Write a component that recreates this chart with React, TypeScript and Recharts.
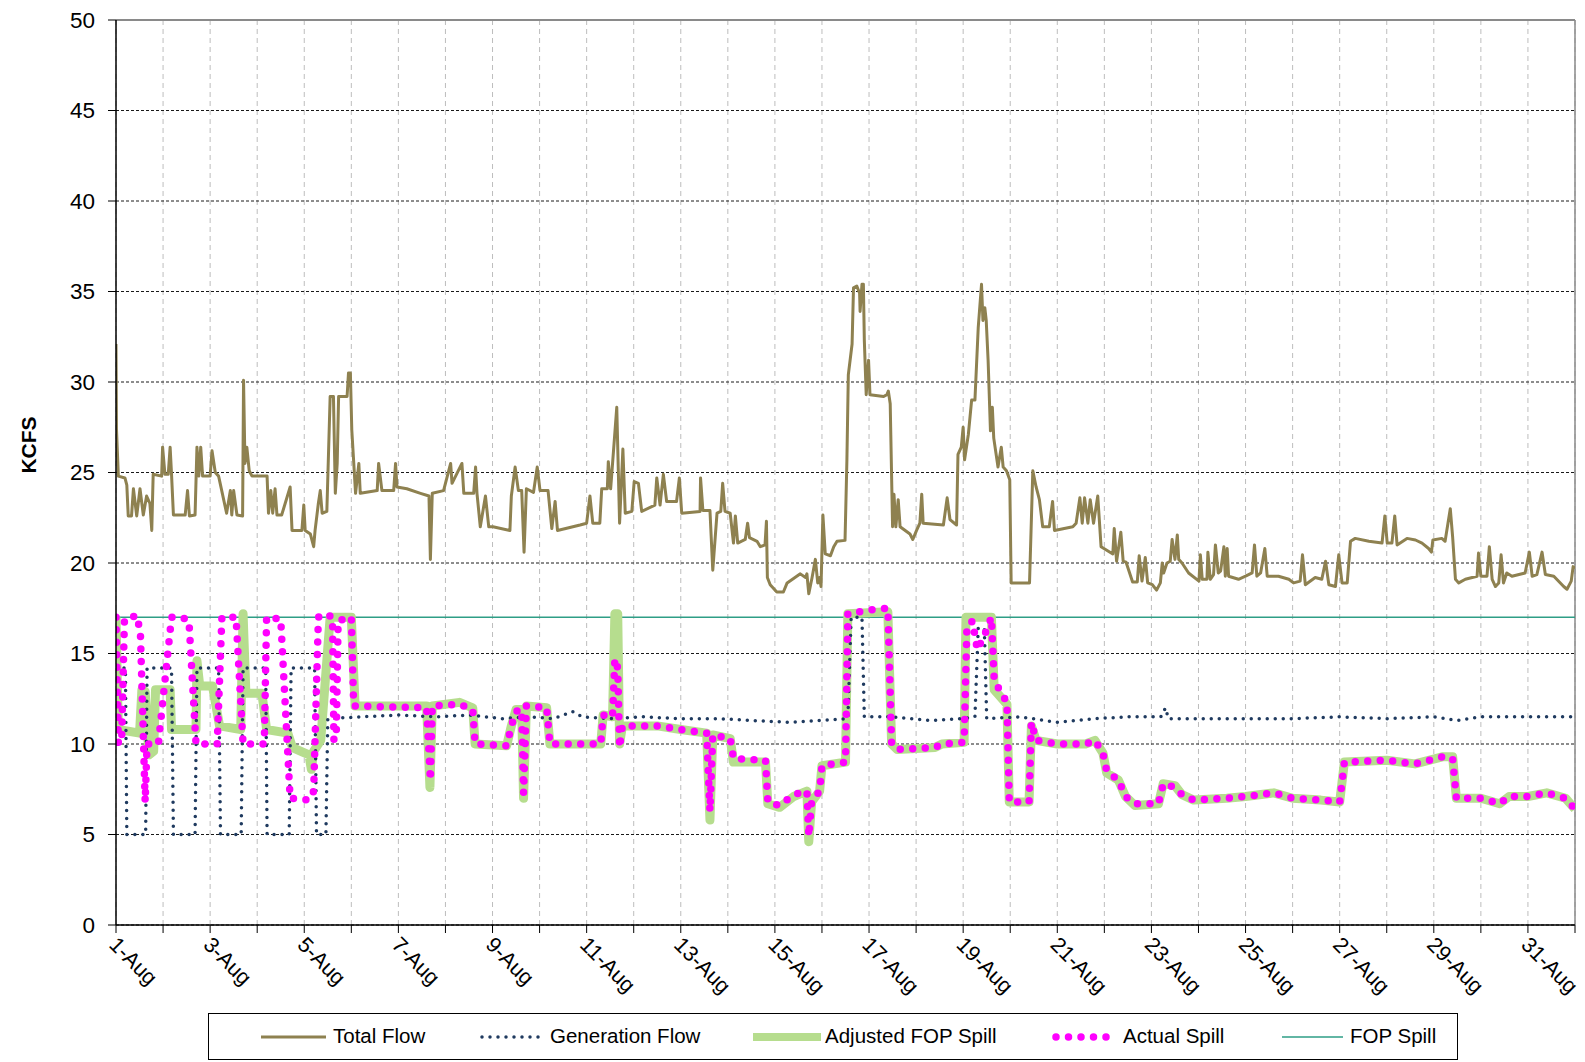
import { LineChart, Line, XAxis, YAxis, CartesianGrid, ReferenceLine } from 'recharts'

// [days since 1-Aug 00:00, kcfs]
type Pt = [number, number]

const dayTicks = [0, 1, 2, 3, 4, 5, 6, 7, 8, 9, 10, 11, 12, 13, 14, 15, 16, 17, 18, 19, 20, 21, 22, 23, 24, 25, 26, 27, 28, 29, 30, 31]
const dayLabels = [
  '1-Aug', '', '3-Aug', '', '5-Aug', '', '7-Aug', '', '9-Aug', '', '11-Aug', '', '13-Aug', '', '15-Aug', '',
  '17-Aug', '', '19-Aug', '', '21-Aug', '', '23-Aug', '', '25-Aug', '', '27-Aug', '', '29-Aug', '', '31-Aug', '',
]
const yTicks = [0, 5, 10, 15, 20, 25, 30, 35, 40, 45, 50]

const totalFlow: Pt[] = [
  [0, 32.1], [0.01, 27.4], [0.05, 24.8], [0.19, 24.7], [0.23, 24.3], [0.26, 22.6], [0.33, 22.6], [0.37, 24.1],
  [0.44, 22.6], [0.51, 24.1], [0.58, 22.65], [0.65, 23.7], [0.72, 23.3], [0.76, 21.8], [0.79, 24.9], [0.97, 24.8],
  [0.99, 26.4], [1.04, 24.9], [1.11, 24.9], [1.15, 26.4], [1.18, 24.9], [1.22, 22.65], [1.47, 22.65], [1.52, 24.0],
  [1.56, 22.6], [1.68, 22.65], [1.72, 26.4], [1.76, 24.8], [1.8, 26.4], [1.84, 24.8], [2.0, 24.8], [2.04, 26.2],
  [2.11, 25.0], [2.18, 24.8], [2.35, 22.75], [2.43, 24.0], [2.46, 22.65], [2.5, 24.0], [2.57, 22.65], [2.69, 22.6],
  [2.71, 30.1], [2.74, 25.5], [2.78, 26.4], [2.83, 25.1], [2.89, 24.8], [3.21, 24.8], [3.24, 22.75], [3.29, 24.0],
  [3.33, 22.75], [3.38, 24.1], [3.42, 22.65], [3.52, 22.65], [3.7, 24.2], [3.74, 21.8], [3.95, 21.8], [3.99, 23.2],
  [4.02, 21.8], [4.13, 21.6], [4.2, 20.9], [4.23, 21.8], [4.3, 23.3], [4.34, 24.0], [4.38, 22.75], [4.48, 22.85],
  [4.55, 29.2], [4.62, 29.2], [4.66, 23.85], [4.7, 25.5], [4.73, 29.2], [4.91, 29.2], [4.94, 30.5], [4.98, 30.5],
  [5.01, 27.35], [5.09, 23.85], [5.16, 25.5], [5.19, 23.85], [5.55, 24.0], [5.58, 25.5], [5.65, 24.0], [5.9, 24.0],
  [5.94, 25.5], [5.97, 24.2], [6.18, 24.1], [6.47, 23.85], [6.65, 23.7], [6.68, 20.2], [6.72, 23.85], [6.96, 24.0],
  [7.11, 25.5], [7.14, 24.4], [7.35, 25.5], [7.39, 23.85], [7.6, 23.85], [7.64, 25.3], [7.67, 23.85], [7.74, 22.0],
  [7.85, 23.7], [7.92, 22.0], [8.01, 22.0], [8.37, 21.8], [8.4, 23.7], [8.48, 25.3], [8.55, 24.0], [8.62, 24.0],
  [8.67, 20.6], [8.72, 24.1], [8.87, 23.9], [8.95, 25.3], [9.01, 24.0], [9.18, 24.0], [9.26, 21.9], [9.33, 23.4],
  [9.38, 21.8], [9.86, 22.1], [10.0, 22.2], [10.07, 23.7], [10.13, 22.2], [10.28, 22.2], [10.32, 24.1], [10.44, 24.1],
  [10.46, 25.6], [10.51, 24.1], [10.64, 28.6], [10.7, 22.2], [10.77, 26.3], [10.82, 22.75], [10.96, 22.85], [11.01, 24.5],
  [11.1, 24.4], [11.17, 22.85], [11.45, 23.2], [11.49, 24.7], [11.56, 23.2], [11.63, 24.9], [11.7, 23.4], [11.91, 23.4],
  [11.97, 24.7], [12.02, 22.75], [12.41, 22.85], [12.42, 24.7], [12.47, 22.9], [12.62, 22.9], [12.68, 19.6], [12.77, 22.75],
  [12.85, 22.85], [12.89, 24.4], [12.94, 22.85], [13.05, 22.75], [13.12, 21.1], [13.16, 22.6], [13.21, 21.1], [13.37, 21.3],
  [13.42, 22.2], [13.46, 21.4], [13.62, 21.2], [13.69, 20.9], [13.79, 21.0], [13.82, 22.3], [13.84, 19.2], [13.9, 18.8],
  [14.04, 18.4], [14.18, 18.4], [14.26, 18.9], [14.54, 19.4], [14.65, 19.2], [14.68, 19.4], [14.72, 18.3], [14.79, 19.2],
  [14.86, 20.2], [14.91, 18.9], [14.95, 19.2], [14.98, 18.7], [15.02, 22.65], [15.07, 20.5], [15.18, 20.4], [15.25, 20.9],
  [15.32, 21.2], [15.49, 21.25], [15.53, 25.7], [15.56, 30.4], [15.64, 32.1], [15.67, 35.2], [15.74, 35.3], [15.8, 34.9],
  [15.81, 33.9], [15.85, 35.4], [15.88, 35.4], [15.9, 32.3], [15.94, 29.3], [15.99, 31.2], [16.02, 29.3], [16.31, 29.2],
  [16.38, 29.3], [16.41, 29.5], [16.45, 28.8], [16.5, 22.0], [16.53, 23.8], [16.57, 22.0], [16.62, 23.5], [16.66, 22.0],
  [16.87, 21.6], [16.93, 21.3], [17.01, 21.8], [17.08, 22.2], [17.12, 23.8], [17.15, 22.2], [17.58, 22.1], [17.66, 23.6],
  [17.72, 22.4], [17.86, 22.1], [17.89, 26.0], [17.96, 26.4], [18.0, 27.5], [18.03, 25.7], [18.11, 27.1], [18.18, 29.0],
  [18.25, 29.0], [18.32, 33.0], [18.39, 35.4], [18.42, 33.4], [18.46, 34.1], [18.49, 33.4], [18.53, 31.2], [18.58, 27.3],
  [18.62, 28.6], [18.65, 26.9], [18.74, 25.3], [18.81, 26.4], [18.85, 25.3], [18.92, 25.1], [18.99, 24.6], [19.02, 18.9],
  [19.41, 18.9], [19.48, 25.1], [19.55, 24.2], [19.62, 23.5], [19.69, 22.0], [19.83, 22.0], [19.9, 23.4], [19.94, 21.8],
  [20.33, 22.0], [20.4, 22.2], [20.48, 23.6], [20.53, 22.2], [20.58, 23.6], [20.65, 22.2], [20.7, 23.5], [20.77, 22.2],
  [20.86, 23.7], [20.93, 20.9], [21.18, 20.5], [21.21, 21.9], [21.26, 20.1], [21.35, 21.7], [21.4, 20.1], [21.46, 20.05],
  [21.6, 18.95], [21.7, 18.95], [21.74, 20.4], [21.8, 19.0], [21.87, 20.3], [21.92, 18.9], [22.02, 18.8], [22.11, 18.5],
  [22.19, 18.9], [22.23, 20.0], [22.26, 19.45], [22.33, 20.0], [22.4, 20.1], [22.44, 21.3], [22.5, 20.2], [22.55, 21.55],
  [22.58, 20.2], [22.65, 20.0], [22.79, 19.45], [23.01, 19.0], [23.04, 20.45], [23.08, 19.1], [23.18, 19.1], [23.2, 20.6],
  [23.25, 19.1], [23.32, 19.36], [23.36, 21.0], [23.42, 19.45], [23.47, 19.55], [23.54, 20.9], [23.57, 19.27], [23.61, 20.8],
  [23.64, 19.27], [23.85, 19.1], [24.0, 19.27], [24.14, 19.45], [24.19, 21.0], [24.24, 19.27], [24.32, 19.45], [24.41, 20.8],
  [24.46, 19.27], [24.7, 19.27], [24.92, 19.1], [25.02, 18.9], [25.16, 19.0], [25.21, 20.45], [25.27, 18.8], [25.48, 19.2],
  [25.62, 19.1], [25.7, 20.1], [25.77, 18.8], [25.91, 18.7], [25.98, 20.45], [26.05, 18.9], [26.16, 18.9], [26.23, 21.2],
  [26.33, 21.36], [26.62, 21.2], [26.9, 21.1], [26.96, 22.6], [27.01, 21.1], [27.11, 21.1], [27.17, 22.6], [27.22, 21.0],
  [27.43, 21.36], [27.61, 21.27], [27.75, 21.1], [27.89, 20.8], [27.95, 20.6], [27.98, 21.27], [28.17, 21.36], [28.24, 21.2],
  [28.35, 23.0], [28.4, 21.45], [28.46, 19.1], [28.53, 18.9], [28.67, 19.1], [28.92, 19.27], [28.95, 20.55], [29.0, 19.27],
  [29.13, 19.27], [29.18, 20.9], [29.24, 19.1], [29.31, 18.7], [29.38, 18.9], [29.43, 20.45], [29.48, 18.9], [29.55, 19.45],
  [29.66, 19.27], [29.94, 19.45], [30.03, 20.6], [30.09, 19.27], [30.19, 19.36], [30.3, 20.6], [30.37, 19.36], [30.55, 19.27],
  [30.76, 18.7], [30.83, 18.55], [30.92, 19.0], [30.96, 19.8], [31.0, 19.7],
]

const generationFlow: Pt[] = [
  [0, 14.2], [0.2, 14.2], [0.23, 5.0], [0.63, 5.0], [0.66, 14.2], [1.18, 14.2], [1.22, 5.0], [1.68, 5.0], [1.72, 14.2],
  [2.18, 14.2], [2.22, 5.0], [2.66, 5.0], [2.7, 14.2], [3.18, 14.2], [3.21, 5.0], [3.68, 5.0], [3.72, 14.2], [4.22, 14.2],
  [4.26, 5.0], [4.46, 5.0], [4.5, 11.4], [5.2, 11.5], [6.0, 11.6], [6.8, 11.5], [7.5, 11.6], [8.2, 11.4], [8.8, 11.5],
  [9.3, 11.4], [9.7, 11.8], [9.9, 11.5], [10.5, 11.4], [11.2, 11.5], [12.0, 11.4], [12.8, 11.4], [13.5, 11.3], [14.3, 11.2],
  [15.0, 11.3], [15.55, 11.4], [15.62, 17.0], [15.85, 17.0], [15.9, 11.5], [16.5, 11.5], [17.3, 11.3], [18.0, 11.4],
  [18.25, 11.5], [18.32, 16.4], [18.45, 16.4], [18.5, 11.4], [19.2, 11.5], [20.0, 11.2], [20.8, 11.4], [21.5, 11.5],
  [22.2, 11.5], [22.3, 12.0], [22.36, 11.4], [23.0, 11.4], [24.0, 11.4], [25.0, 11.4], [26.0, 11.5], [27.0, 11.4],
  [28.0, 11.5], [28.5, 11.3], [29.0, 11.5], [30.0, 11.5], [31.0, 11.5],
]

const adjustedFopSpill: Pt[] = [
  [0, 17.0], [0.05, 10.8], [0.5, 10.6], [0.55, 13.0], [0.62, 12.9], [0.7, 9.4], [0.8, 9.6], [0.84, 13.0], [1.15, 13.0],
  [1.18, 10.8], [1.7, 10.8], [1.72, 14.6], [1.78, 13.2], [2.05, 13.2], [2.2, 11.0], [2.65, 10.8], [2.7, 17.2], [2.76, 12.8],
  [3.1, 12.8], [3.2, 10.8], [3.65, 10.6], [3.75, 9.8], [4.1, 9.4], [4.15, 8.6], [4.2, 9.6], [4.35, 10.2], [4.55, 17.0],
  [5.0, 17.0], [5.08, 12.1], [6.6, 12.1], [6.67, 7.6], [6.72, 12.1], [7.3, 12.3], [7.58, 12.0], [7.63, 10.0], [8.3, 9.9],
  [8.4, 11.0], [8.5, 11.9], [8.62, 11.9], [8.66, 7.0], [8.72, 12.1], [9.15, 12.0], [9.22, 10.0], [10.3, 10.0], [10.35, 11.6],
  [10.55, 11.5], [10.6, 17.2], [10.66, 17.2], [10.7, 10.0], [10.76, 11.0], [11.5, 11.0], [12.0, 10.8], [12.55, 10.6],
  [12.62, 5.8], [12.68, 10.5], [13.05, 10.3], [13.12, 9.0], [13.8, 9.0], [13.85, 6.7], [14.1, 6.5], [14.4, 7.1], [14.68, 7.4],
  [14.72, 4.6], [14.78, 6.8], [14.95, 7.4], [15.0, 8.8], [15.5, 9.0], [15.55, 17.2], [16.4, 17.3], [16.48, 10.0], [16.6, 9.7],
  [17.4, 9.8], [17.55, 10.0], [18.02, 10.1], [18.06, 17.0], [18.6, 17.0], [18.66, 13.0], [18.93, 12.2], [18.98, 6.8],
  [19.4, 6.8], [19.45, 11.0], [19.55, 10.2], [20.0, 10.0], [20.6, 10.0], [20.8, 10.2], [20.97, 9.5], [21.05, 8.4], [21.3, 8.0],
  [21.45, 7.1], [21.65, 6.6], [22.15, 6.7], [22.25, 7.8], [22.5, 7.7], [22.65, 7.2], [22.9, 6.9], [23.6, 7.0], [24.0, 7.1],
  [24.6, 7.3], [25.0, 7.0], [25.6, 6.9], [26.0, 6.8], [26.1, 9.0], [27.0, 9.1], [27.6, 8.9], [28.2, 9.3], [28.4, 9.3],
  [28.48, 7.0], [29.0, 7.0], [29.4, 6.7], [29.6, 7.1], [30.0, 7.1], [30.4, 7.3], [30.8, 7.0], [31.0, 6.4],
]

const actualSpill: Pt[] = [
  [0, 17.0], [0.05, 10.0], [0.12, 10.2], [0.18, 16.9], [0.45, 17.1], [0.52, 16.0], [0.62, 6.8], [0.66, 10.0], [0.9, 10.0],
  [1.18, 17.0], [1.4, 17.0], [1.55, 16.8], [1.7, 10.0], [2.15, 10.0], [2.25, 17.0], [2.55, 17.0], [2.7, 10.0], [3.15, 10.0],
  [3.2, 17.0], [3.5, 16.9], [3.7, 7.0], [4.1, 6.9], [4.2, 7.4], [4.3, 17.0], [4.45, 17.2], [4.6, 17.0], [4.63, 10.2],
  [4.68, 10.5], [4.72, 16.8], [5.0, 17.0], [5.05, 12.1], [6.6, 12.0], [6.68, 8.0], [6.72, 12.1], [7.3, 12.2], [7.58, 11.9],
  [7.63, 10.0], [8.3, 9.9], [8.4, 11.0], [8.5, 11.8], [8.62, 11.9], [8.66, 7.3], [8.72, 12.1], [9.15, 12.0], [9.22, 10.0],
  [10.3, 10.0], [10.35, 11.6], [10.55, 11.5], [10.6, 14.7], [10.66, 14.2], [10.7, 9.8], [10.76, 11.0], [11.5, 11.0],
  [12.0, 10.8], [12.55, 10.6], [12.62, 6.3], [12.68, 10.5], [13.05, 10.3], [13.12, 9.2], [13.8, 9.1], [13.85, 6.8],
  [14.1, 6.6], [14.4, 7.2], [14.68, 7.4], [14.72, 4.9], [14.78, 6.8], [14.95, 7.4], [15.0, 8.8], [15.5, 9.0], [15.55, 17.2],
  [16.0, 17.4], [16.4, 17.5], [16.48, 10.0], [16.6, 9.7], [17.4, 9.8], [17.55, 10.0], [18.02, 10.1], [18.08, 16.5],
  [18.2, 16.8], [18.3, 15.2], [18.45, 16.0], [18.6, 17.0], [18.66, 13.5], [18.93, 12.3], [18.98, 6.8], [19.4, 6.8],
  [19.45, 11.2], [19.55, 10.2], [20.0, 10.0], [20.6, 10.0], [20.8, 10.2], [20.97, 9.5], [21.05, 8.5], [21.3, 8.0],
  [21.45, 7.1], [21.65, 6.7], [22.15, 6.7], [22.25, 7.8], [22.5, 7.6], [22.65, 7.2], [22.9, 6.9], [23.6, 7.0], [24.0, 7.1],
  [24.6, 7.3], [25.0, 7.0], [25.6, 6.9], [26.0, 6.8], [26.1, 9.0], [27.0, 9.1], [27.6, 8.9], [28.2, 9.3], [28.4, 9.2],
  [28.48, 7.0], [29.0, 7.0], [29.4, 6.7], [29.6, 7.1], [30.0, 7.1], [30.4, 7.3], [30.8, 7.0], [31.0, 6.4],
]

const fopSpill: Pt[] = [[0, 17.0], [31, 17.0]]

const FONT = "'Liberation Sans', Arial, sans-serif"

const rows = (pts: Pt[]) => pts.map(([t, v]) => ({ t, v }))

function DayTick(props: any) {
  const { x, y, payload } = props
  const label = dayLabels[payload.value]
  if (!label) return <g />
  const ax = x - 8
  const ay = y + 11
  return (
    <text x={ax} y={ay} transform={`rotate(45 ${ax} ${ay})`} textAnchor="start" fontSize={21.5} fontFamily={FONT} fill="#000">
      {label}
    </text>
  )
}

function KcfsLabel() {
  return (
    <text x={36} y={445} transform="rotate(-90 36 445)" textAnchor="middle" fontSize={21} fontWeight="bold" fontFamily={FONT} fill="#000">
      KCFS
    </text>
  )
}

function LegendBox() {
  const text = { position: 'absolute' as const, fontSize: 20.5, fontFamily: FONT, color: '#000', lineHeight: '24px' }
  return (
    <div style={{ position: 'absolute', left: 208, top: 1013, width: 1250, height: 47, border: '1.5px solid #000', boxSizing: 'border-box' }}>
      <svg width={1250} height={47} style={{ position: 'absolute', left: -1.5, top: -1.5 }}>
        <line x1={53} x2={118} y1={24} y2={24} stroke="#8E8150" strokeWidth={3} />
        <line x1={274} x2={331} y1={24} y2={24} stroke="#1F3A5F" strokeWidth={3.5} strokeDasharray="0 8" strokeLinecap="round" />
        <line x1={545} x2={613} y1={24} y2={24} stroke="#B6DD8E" strokeWidth={8} />
        <line x1={848} x2={909} y1={24} y2={24} stroke="#FF00FF" strokeWidth={7.5} strokeDasharray="0 12.5" strokeLinecap="round" />
        <line x1={1074} x2={1135} y1={24} y2={24} stroke="#2E9E86" strokeWidth={1.5} />
      </svg>
      <span style={{ ...text, top: 10, left: 124 }}>Total Flow</span>
      <span style={{ ...text, top: 10, left: 341 }}>Generation Flow</span>
      <span style={{ ...text, top: 10, left: 616 }}>Adjusted FOP Spill</span>
      <span style={{ ...text, top: 10, left: 914 }}>Actual Spill</span>
      <span style={{ ...text, top: 10, left: 1141 }}>FOP Spill</span>
    </div>
  )
}

export default function App() {
  return (
    <div style={{ position: 'absolute', left: 0, top: 0, width: 1585, height: 1062, background: '#fff' }}>
      <LineChart width={1585} height={1062} margin={{ top: 20, right: 10, bottom: 57, left: 0 }}>
        <CartesianGrid horizontal={false} stroke="#bdbdbd" strokeDasharray="5 4" />
        <CartesianGrid vertical={false} stroke="#1a1a1a" strokeDasharray="3 2" />
        <XAxis
          type="number"
          dataKey="t"
          domain={[0, 31]}
          ticks={dayTicks}
          interval={0}
          allowDataOverflow
          height={80}
          tickSize={8}
          tick={<DayTick />}
          axisLine={{ stroke: '#000', strokeWidth: 1.5 }}
          tickLine={{ stroke: '#000' }}
        />
        <YAxis
          type="number"
          domain={[0, 50]}
          ticks={yTicks}
          interval={0}
          width={116}
          tickSize={8}
          tickMargin={13}
          tick={{ fontSize: 22.5, fontFamily: FONT, fill: '#000' }}
          axisLine={{ stroke: '#000', strokeWidth: 1.5 }}
          tickLine={{ stroke: '#000' }}
          label={{ content: <KcfsLabel /> }}
        />
        <ReferenceLine y={50} stroke="#8a8a8a" strokeWidth={2} />
        <ReferenceLine x={31} stroke="#8a8a8a" strokeWidth={1.5} />
        <Line data={rows(fopSpill)} dataKey="v" type="linear" stroke="#2E9E86" strokeWidth={1.5} dot={false} activeDot={false} isAnimationActive={false} />
        <Line data={rows(adjustedFopSpill)} dataKey="v" type="linear" stroke="#B6DD8E" strokeWidth={9} strokeLinejoin="round" dot={false} activeDot={false} isAnimationActive={false} />
        <Line data={rows(generationFlow)} dataKey="v" type="linear" stroke="#1F3A5F" strokeWidth={3.5} strokeDasharray="0 8" strokeLinecap="round" dot={false} activeDot={false} isAnimationActive={false} />
        <Line data={rows(actualSpill)} dataKey="v" type="linear" stroke="#FF00FF" strokeWidth={7.5} strokeDasharray="0 12.5" strokeLinecap="round" dot={false} activeDot={false} isAnimationActive={false} />
        <Line data={rows(totalFlow)} dataKey="v" type="linear" stroke="#8E8150" strokeWidth={3} strokeLinejoin="round" dot={false} activeDot={false} isAnimationActive={false} />
      </LineChart>
      <LegendBox />
    </div>
  )
}
